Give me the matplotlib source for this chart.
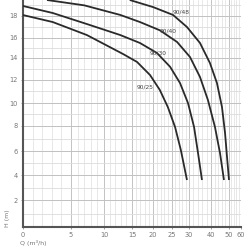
import numpy as np
import matplotlib
matplotlib.use("Agg")
import matplotlib.pyplot as plt

# axis tick values and their (nonlinear) positions
x_ticks = [0, 5, 10, 15, 20, 25, 30, 40, 50, 60]
x_tick_pos = [23, 71, 104, 132, 153, 172, 189, 211, 229, 241]
y_ticks = [0, 2, 4, 6, 8, 10, 12, 14, 16, 18, 19.5]
y_tick_pos = [227, 200, 175, 151, 126, 103, 80, 58, 38, 16, 0]

# pump curves: Q (m3/h) and H (m)
q_9048 = [14.6, 20.0, 25.3, 29.4, 35.0, 39.5, 43.3, 46.1, 47.8, 48.9, 50.0]
h_9048 = [19.5, 18.84, 18.1, 17.0, 15.5, 13.55, 11.74, 9.65, 7.44, 5.5, 3.6]

q_9040 = [2.5, 7.0, 12.9, 16.9, 21.8, 26.5, 30.45, 35.0, 38.6, 42.2, 45.0, 47.2]
h_9040 = [19.5, 19.0, 18.1, 17.45, 16.7, 15.6, 14.1, 12.27, 10.26, 7.92, 5.83, 3.6]

q_9030 = [0, 3.1, 7.4, 12.9, 16.9, 21.05, 24.5, 27.35, 29.7, 32.3, 34.1, 35.9]
h_9030 = [18.94, 18.28, 17.27, 16.27, 15.5, 14.5, 13.2, 11.74, 10.0, 7.92, 5.83, 3.6]

q_9025 = [0, 3.1, 7.4, 13.4, 16.2, 19.3, 21.8, 23.9, 25.9, 27.6, 29.4]
h_9025 = [18.09, 17.45, 16.27, 14.4, 13.64, 12.45, 11.13, 9.65, 7.92, 6.08, 3.6]

labels = ["90/48", "90/40", "90/30", "90/25"]
label_q = [27.6, 24.0, 21.3, 18.1]
label_h = [18.35, 16.6, 14.5, 11.4]

W = 247.0
xp = (np.array(x_tick_pos) - 23) / (241 - 23)
yp = (227 - np.array(y_tick_pos)) / 227.0

def fx(v):
    return np.interp(v, x_ticks, xp)
def ix(v):
    return np.interp(v, xp, x_ticks)
def fy(v):
    return np.interp(v, y_ticks, yp)
def iy(v):
    return np.interp(v, yp, y_ticks)

fig = plt.figure(figsize=(2.47, 2.47), dpi=100)
ax = fig.add_axes([23 / W, 1 - 227 / W, (241 - 23) / W, 227 / W])
ax.set_xscale('function', functions=(fx, ix))
ax.set_yscale('function', functions=(fy, iy))
ax.set_xlim(0, 60)
ax.set_ylim(0, 19.5)

# grid
minor_x = list(range(0, 30)) + list(range(30, 61, 2))
for v in minor_x:
    ax.axvline(v, color='#dedede', lw=0.5, zorder=0)
for v in x_ticks:
    ax.axvline(v, color='#bdbdbd', lw=0.6, zorder=0)
for v in range(0, 20):
    ax.axhline(v, color='#dcdcdc', lw=0.6, zorder=0)
for v in y_ticks[:-1]:
    ax.axhline(v, color='#bdbdbd', lw=0.6, zorder=0)

for q, h in [(q_9048, h_9048), (q_9040, h_9040), (q_9030, h_9030), (q_9025, h_9025)]:
    ax.plot(q, h, color='#2a2a2a', lw=1.3, zorder=3, solid_capstyle='butt')

for lab, q, h in zip(labels, label_q, label_h):
    ax.text(q, h, lab, fontsize=4.2, color='#444444', ha='center', va='center', zorder=4)

ax.set_xticks(x_ticks)
ax.set_yticks(y_ticks[1:-1])
ax.tick_params(axis='both', labelsize=4.8, colors='#777777', length=1.5, width=0.5, pad=2)
for s in ['top', 'right']:
    ax.spines[s].set_visible(False)
for s in ['left', 'bottom']:
    ax.spines[s].set_color('#555555')
    ax.spines[s].set_linewidth(1.5)

fig.text(7 / W, 1 - 218 / W, "H (m)", rotation=90, fontsize=4.5, color='#777777', ha='center', va='center')
fig.text(20 / W, 1 / W, "Q (m³/h)", fontsize=4.5, color='#777777', ha='left', va='bottom')

fig.savefig("out.png", dpi=100)
